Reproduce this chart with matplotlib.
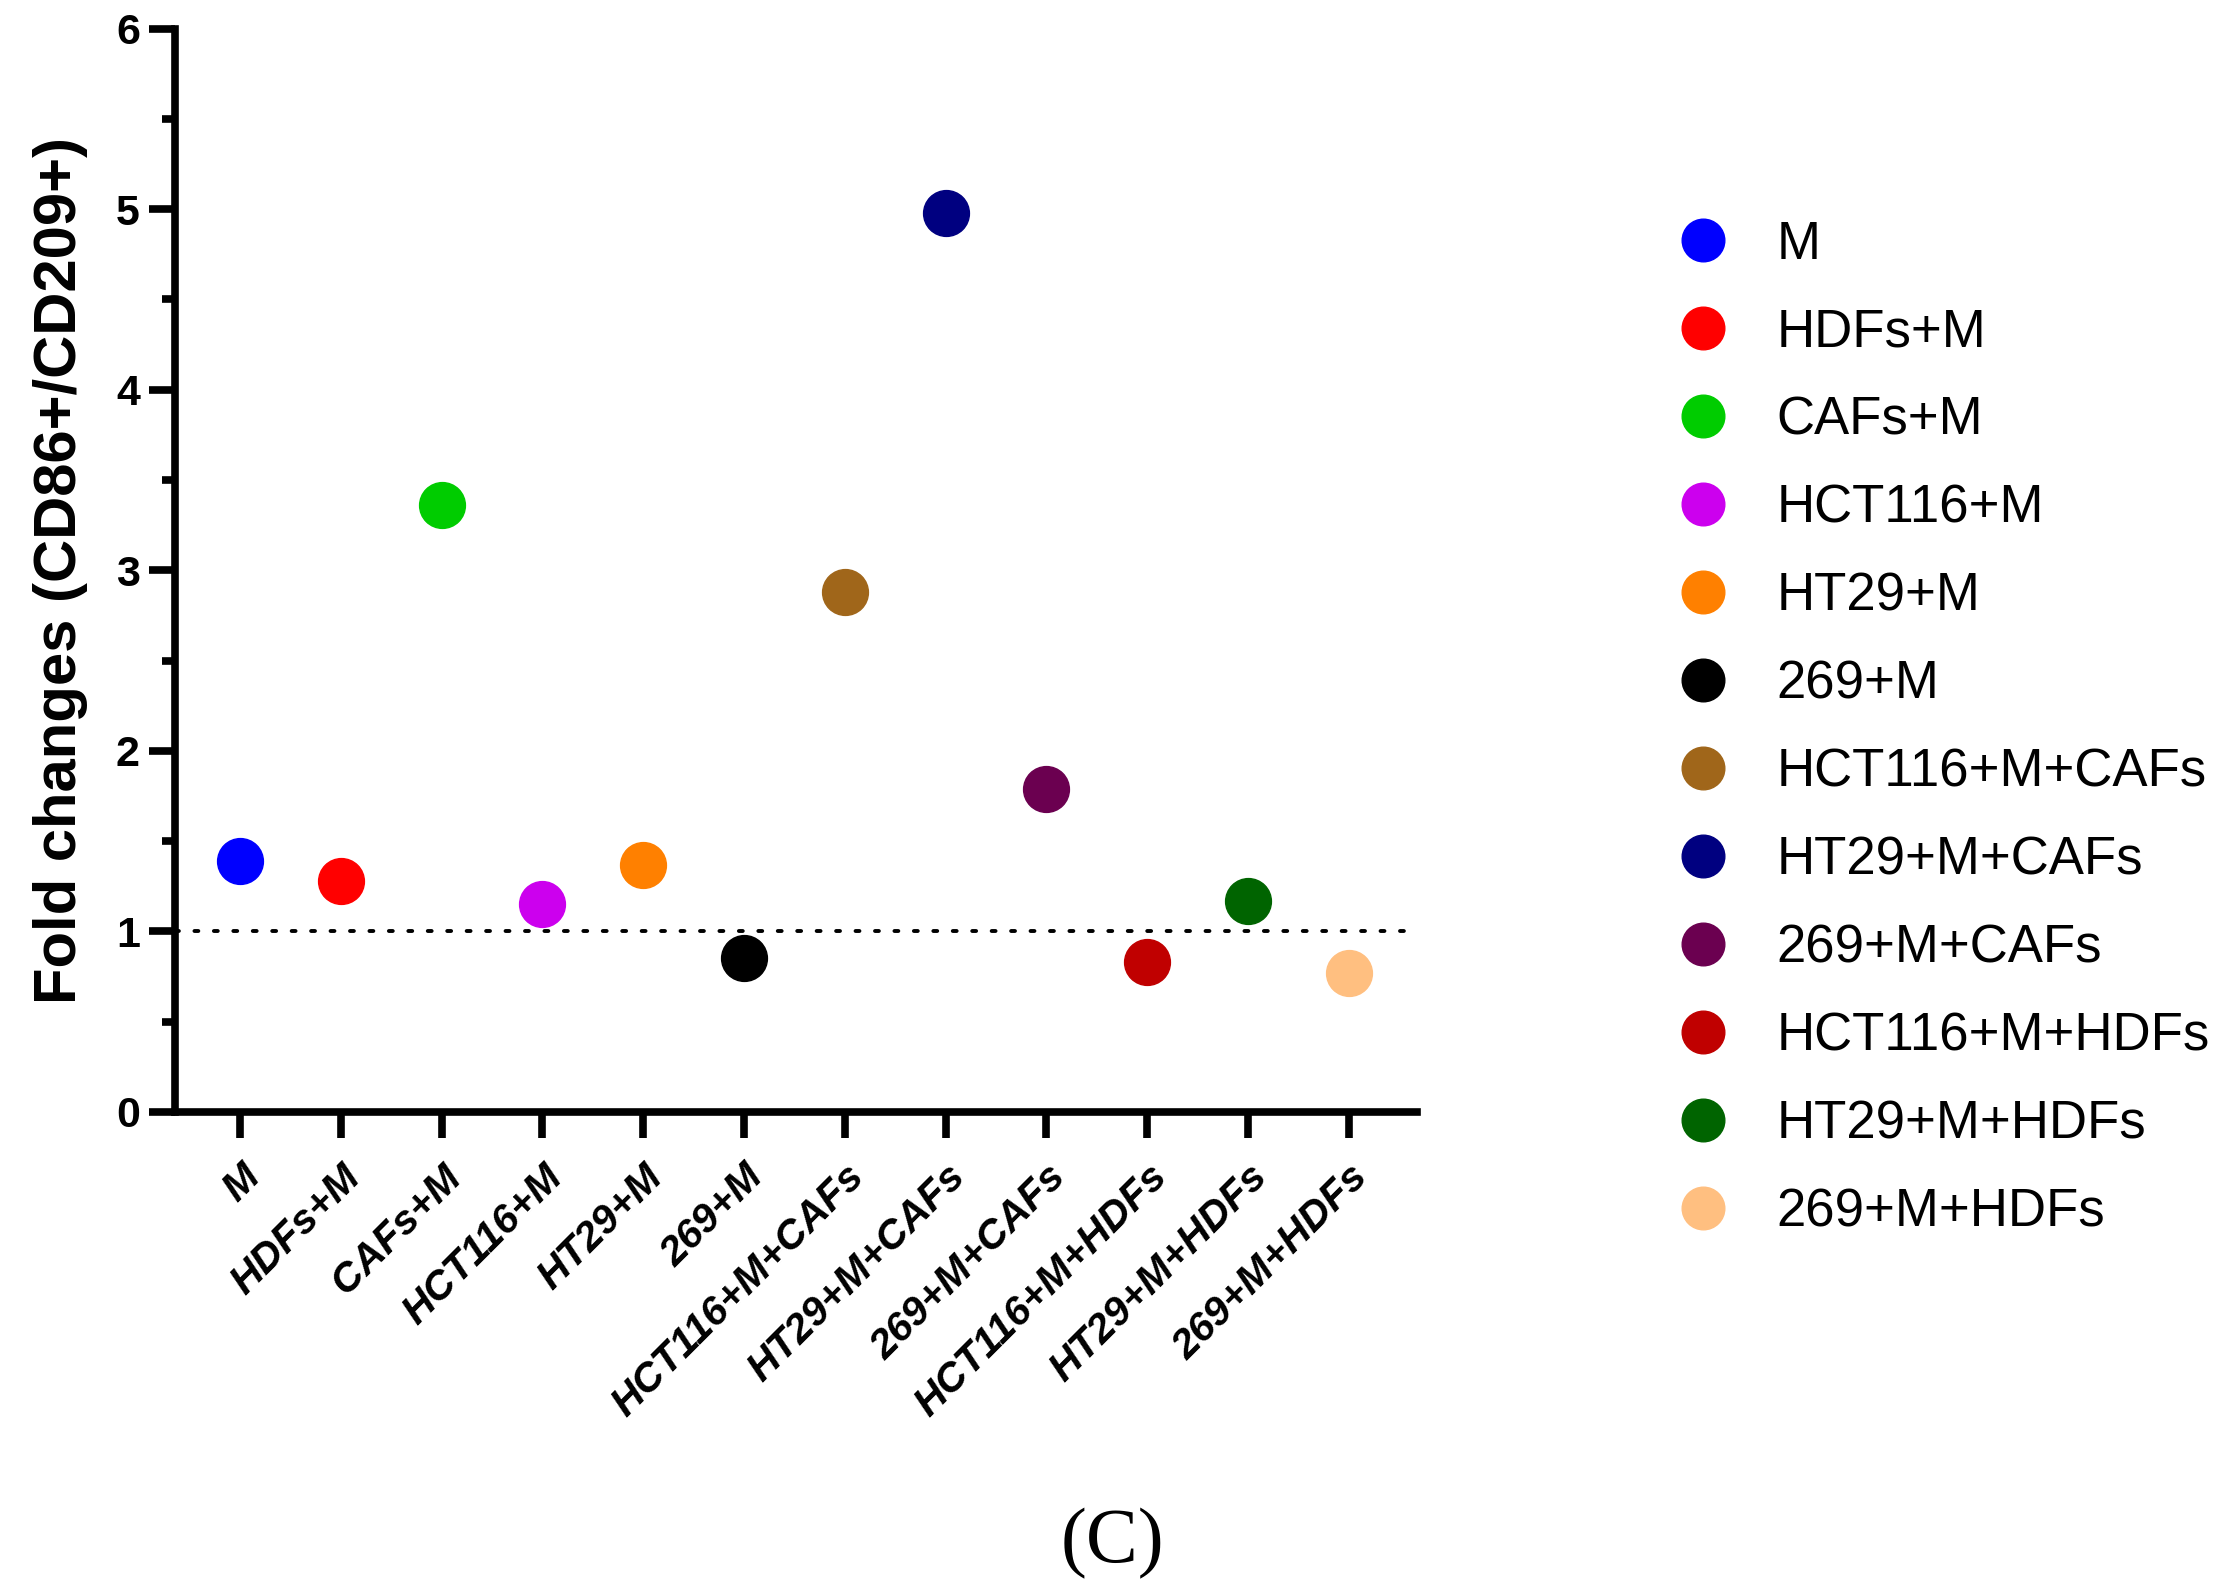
import matplotlib

matplotlib.use("Agg")
import matplotlib.pyplot as plt
import numpy as np
from matplotlib.ticker import MultipleLocator

plt.rcParams["font.family"] = ["Liberation Sans", "DejaVu Sans"]

groups = [
    "M", "HDFs+M", "CAFs+M", "HCT116+M", "HT29+M", "269+M",
    "HCT116+M+CAFs", "HT29+M+CAFs", "269+M+CAFs",
    "HCT116+M+HDFs", "HT29+M+HDFs", "269+M+HDFs",
]
fold_changes = [1.39, 1.28, 3.36, 1.15, 1.37, 0.85, 2.88, 4.98, 1.79, 0.83, 1.17, 0.77]
colors = [
    "#0000FF", "#FF0000", "#00CC00", "#CC00EE", "#FF8000", "#000000",
    "#A0661A", "#000080", "#6B0050", "#C00000", "#006400", "#FFBF80",
]
y_ticks = [0, 1, 2, 3, 4, 5, 6]

fig = plt.figure(figsize=(22.39, 15.93), dpi=100)
ax = fig.add_axes([0.078, 0.302, 0.555, 0.680])

x = np.arange(len(groups))
for xi, val, col, name in zip(x, fold_changes, colors, groups):
    ax.plot(xi, val, "o", color=col, markersize=33, label=name, zorder=3)

# dotted reference line at fold change = 1
ax.axhline(1, color="black", linestyle=(0, (1, 4)), linewidth=2.8,
           dash_capstyle="round", zorder=2)

ax.set_xlim(-0.65, 11.68)
ax.set_ylim(0, 6)
ax.set_yticks(y_ticks)
ax.yaxis.set_minor_locator(MultipleLocator(0.5))
ax.set_xticks(x)
ax.set_xticklabels(groups, rotation=45, ha="right", va="top",
                   rotation_mode="anchor", fontsize=29.5,
                   fontweight="bold", fontstyle="italic")
for lab in ax.get_yticklabels():
    lab.set_fontsize(31)
    lab.set_fontweight("bold")

for side in ["top", "right"]:
    ax.spines[side].set_visible(False)
for side in ["left", "bottom"]:
    ax.spines[side].set_linewidth(5.5)
    ax.spines[side].set_capstyle("projecting")

ax.tick_params(axis="y", which="major", length=19, width=5.5, pad=6)
ax.tick_params(axis="y", which="minor", length=9.5, width=5.5)
ax.tick_params(axis="x", which="major", length=19, width=5.5, pad=14)

ax.set_ylabel("Fold changes (CD86+/CD209+)", fontsize=43, fontweight="bold",
              labelpad=20)

ax.legend(loc="upper left", bbox_to_anchor=(0.749, 0.862),
          bbox_transform=fig.transFigure, frameon=False,
          fontsize=38, markerscale=0.93, labelspacing=0.72,
          handletextpad=0.88, handlelength=1.0,
          borderpad=0, borderaxespad=0)

fig.text(0.497, 0.031, "(C)", fontsize=56, ha="center", va="center",
         family=["Liberation Serif", "DejaVu Serif"])

fig.savefig("out.png", dpi=100)
